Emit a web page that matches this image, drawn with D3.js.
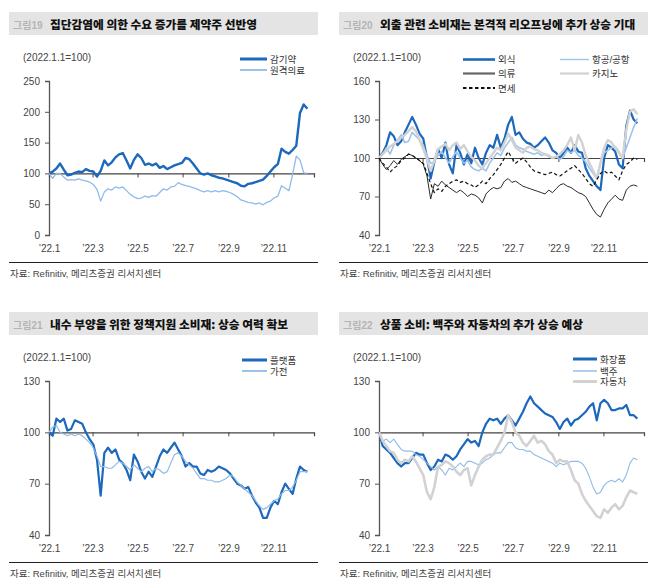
<!DOCTYPE html>
<html><head><meta charset="utf-8">
<script src="https://cdn.jsdelivr.net/npm/d3@7"></script>
<style>body{margin:0;background:#fff}svg{display:block}</style>
</head><body>
<svg id="c" width="660" height="588"></svg>
<script>
// ---------- data ----------
const startDate = "2022-01-01";
const stepDays = 5; // one observation every 5 days
const xTickMonths = ["2022-01-01","2022-03-01","2022-05-01","2022-07-01","2022-09-01","2022-11-01"];
const xTickLabels = ["\u201922.1","\u201922.3","\u201922.5","\u201922.7","\u201922.9","\u201922.11"];

// Fig 19
const coldMedicine = [100,103,108,116,106,97,98,101,103,102,107,104,103,95,104,121,113,118,126,131,133,121,108,122,131,125,114,116,113,116,109,112,107,110,113,115,117,125,123,116,108,100,98,100,97,95,93,92,90,88,86,84,80,79,83,84,86,88,90,96,103,110,115,140,135,132,138,145,198,212,205];
const telemedicine = [100,92,100,100,94,89,90,89,91,89,88,86,82,74,55,70,75,73,78,76,78,72,66,62,59,60,63,61,64,63,69,75,73,78,79,85,82,80,79,77,75,72,70,72,70,72,70,72,71,69,66,62,57,55,53,52,50,52,49,53,55,60,63,80,76,72,98,128,122,101,100];
const fig19Ticks = [0,50,100,150,200,250];

// Fig 20
const dining = [100,104,110,120,117,110,113,120,126,132,126,119,115,100,84,97,107,100,112,95,88,110,104,95,103,96,108,100,95,104,110,108,118,108,115,126,132,118,120,115,112,111,108,110,113,116,112,106,104,100,104,108,104,110,105,104,92,86,82,78,75,100,110,108,105,95,92,125,137,130,127];
const airline = [100,103,108,103,110,114,118,112,113,120,117,114,110,102,96,97,102,105,100,96,101,105,100,96,98,93,91,90,92,90,96,100,104,102,108,112,116,110,108,107,105,104,103,104,102,103,101,100,101,99,101,106,104,106,102,100,97,92,88,84,96,104,106,108,109,105,100,108,116,124,131];
const apparel = [100,95,91,94,98,95,99,101,103,102,100,98,95,86,68,80,78,82,79,77,75,73,75,73,70,72,71,69,65,72,75,77,76,77,82,84,81,82,80,78,77,76,75,74,73,72,75,73,76,79,80,78,77,75,73,72,70,65,60,56,54,60,65,68,71,68,67,75,78,79,78];
const casino = [100,103,106,109,111,113,116,118,121,124,121,114,107,99,90,98,107,109,111,106,110,112,107,110,105,101,98,94,92,96,100,104,108,106,112,119,114,108,106,104,108,109,107,106,104,103,102,100,101,103,106,110,116,106,118,112,102,96,90,84,96,108,114,112,108,104,100,122,136,138,134];
const dutyFree = [100,96,93,89,92,94,98,100,103,102,100,98,96,88,80,73,76,74,78,80,82,83,81,82,80,79,77,79,82,80,84,87,91,95,100,105,100,96,98,100,97,93,90,89,88,87,88,89,87,86,88,90,92,94,91,88,84,80,78,83,88,90,88,89,86,83,90,95,97,100,99];
const fig20Ticks = [40,70,100,130,160];

// Fig 21
const platform = [100,98,108,106,108,101,102,107,106,105,100,96,93,84,63,88,91,88,90,84,82,78,72,87,83,77,73,77,74,80,86,90,88,91,94,90,86,80,82,80,80,76,75,78,77,78,80,79,78,76,73,70,69,67,68,63,59,56,50,50,56,60,58,65,70,67,64,73,80,78,77];
const appliance = [100,103,104,100,99,98,99,98,99,98,96,94,91,86,80,80,79,79,81,83,82,80,78,81,79,77,79,80,77,79,78,76,77,82,87,88,86,83,81,79,76,73,73,72,72,71,71,72,73,75,74,71,69,67,65,63,60,57,55,56,58,60,61,64,66,66,68,72,77,77,77];
const fig21Ticks = [40,70,100,130];

// Fig 22
const cosmetics = [100,92,90,88,85,82,80,82,82,85,88,87,87,82,78,80,84,83,87,86,84,86,90,93,96,94,95,92,100,105,108,107,108,105,108,110,107,104,108,112,117,121,117,115,113,111,110,109,106,102,106,108,104,107,108,110,112,115,117,107,117,119,117,113,113,114,114,116,110,110,108];
const baijiu = [100,95,96,94,96,93,90,89,89,89,87,86,84,82,80,78,80,78,75,79,78,80,82,80,83,83,82,81,82,84,85,87,88,88,91,94,94,91,90,90,89,89,87,86,85,84,83,82,80,82,81,82,83,83,83,82,79,74,68,64,65,69,71,72,71,73,71,75,82,85,84];
const autos = [100,95,92,89,88,84,82,84,83,86,83,79,75,65,61,68,80,81,83,82,80,77,75,78,79,69,75,80,84,86,87,87,91,95,100,110,106,100,98,94,92,95,98,94,95,93,89,87,82,84,83,83,78,72,70,64,60,57,54,51,50,55,53,56,58,55,57,62,66,65,64];
const fig22Ticks = [40,70,100,130];

const sourceText = "자료: Refinitiv, 메리츠증권 리서치센터";
const baseLabel = "(2022.1.1=100)";

// ---------- drawing ----------
const svg = d3.select("#c");
const parse = d3.timeParse("%Y-%m-%d");
const t0 = parse(startDate);
const dateAt = i => d3.timeDay.offset(t0, i * stepDays);
const FONT = "'Liberation Sans','Noto Sans CJK KR',sans-serif";
const DARK = "#1c68bd", LIGHT = "#8fbbe8", GRAY = "#d2d2d2";

function panel(cfg) {
  const g = svg.append("g");
  const ox = cfg.ox, oy = cfg.oy;
  // title bar
  g.append("rect").attr("x", ox + 9).attr("y", oy + 12).attr("width", 309).attr("height", 23).attr("fill", "#e4e4e4");
  g.append("text").attr("x", ox + 13).attr("y", oy + 28.5).attr("font-family", FONT).attr("font-size", 10)
    .attr("font-weight", "bold").attr("fill", "#b4b4b4").text(cfg.num);
  g.append("text").attr("x", ox + 50).attr("y", oy + 28.5).attr("font-family", "'Noto Sans CJK KR',sans-serif")
    .attr("font-size", 11.7).attr("font-weight", 900).attr("fill", "#111").text(cfg.title);
  // base label
  g.append("text").attr("x", ox + 23).attr("y", oy + 60.5).attr("font-family", FONT).attr("font-size", 10)
    .attr("fill", "#444").text(baseLabel);

  const x = d3.scaleTime().domain([parse("2022-01-01"), parse("2022-12-26")]).range([ox + 49, ox + 314]);
  const y = d3.scaleLinear().domain(cfg.domain).range([oy + 235, oy + 81]);

  // y axis
  const ya = g.append("g").attr("transform", `translate(${ox + 49},0)`)
    .call(d3.axisLeft(y).tickValues(cfg.ticks).tickSize(4).tickPadding(5).tickFormat(d3.format("d")));
  ya.select(".domain").attr("stroke", "#555").attr("stroke-width", 1.3);
  ya.selectAll(".tick line").attr("stroke", "#555");
  ya.selectAll("text").attr("font-family", FONT).attr("font-size", 10).attr("fill", "#444");

  // x axis drawn at 100 with labels at the bottom
  const xa = g.append("g").attr("transform", `translate(0,${y(100)})`)
    .call(d3.axisBottom(x).tickValues(xTickMonths.map(parse)).tickSize(4).tickFormat(""));
  xa.select(".domain").attr("stroke", "#444").attr("stroke-width", 1.2);
  xa.selectAll(".tick line").attr("stroke", "#444");
  const xl = g.append("g").attr("transform", `translate(0,${oy + 235})`)
    .call(d3.axisBottom(x).tickValues(xTickMonths.map(parse)).tickSize(0).tickPadding(10)
      .tickFormat((d, i) => xTickLabels[i]));
  xl.select(".domain").remove();
  xl.selectAll("text").attr("font-family", FONT).attr("font-size", 10).attr("fill", "#444");

  // series
  const line = d3.line().x((d, i) => x(dateAt(i))).y(d => y(d)).curve(d3.curveLinear);
  const clip = "clip" + cfg.num;
  g.append("clipPath").attr("id", clip).append("rect").attr("x", ox + 49).attr("y", oy + 70)
    .attr("width", 270).attr("height", 170);
  const sg = g.append("g").attr("clip-path", `url(#${clip})`);
  cfg.series.forEach(s => {
    sg.append("path").datum(s.values).attr("d", line).attr("fill", "none")
      .attr("stroke", s.color).attr("stroke-width", s.w).attr("stroke-linejoin", "round")
      .attr("stroke-dasharray", s.dash || null);
  });

  // legend
  cfg.series.forEach(s => {
    const L = s.leg;
    g.append("line").attr("x1", ox + L[0]).attr("x2", ox + L[1]).attr("y1", oy + L[2]).attr("y2", oy + L[2])
      .attr("stroke", s.legColor || s.color).attr("stroke-width", s.lw || s.w).attr("stroke-dasharray", s.dash || null);
    g.append("text").attr("x", ox + L[1] + 3).attr("y", oy + L[2] + 3.5).attr("font-family", FONT)
      .attr("font-size", 9.5).attr("fill", "#333").text(s.name);
  });

  // source
  g.append("line").attr("x1", ox + 9).attr("x2", ox + 318).attr("y1", oy + 262.5).attr("y2", oy + 262.5)
    .attr("stroke", "#222").attr("stroke-width", 1);
  g.append("text").attr("x", ox + 10).attr("y", oy + 276.5).attr("font-family", FONT).attr("font-size", 9.5)
    .attr("fill", "#444").text(sourceText);
}

panel({ox: 0, oy: 0, num: "그림19", title: "집단감염에 의한 수요 증가를 제약주 선반영",
  domain: [0, 250], ticks: fig19Ticks,
  series: [
    {name: "감기약", values: coldMedicine, color: DARK, w: 2.4, lw: 3, leg: [240, 267, 59]},
    {name: "원격의료", values: telemedicine, color: LIGHT, w: 1.3, lw: 1.8, leg: [240, 267, 70]}
  ]});

panel({ox: 330, oy: 0, num: "그림20", title: "외출 관련 소비재는 본격적 리오프닝에 추가 상승 기대",
  domain: [40, 160], ticks: fig20Ticks,
  series: [
    {name: "외식", values: dining, color: DARK, w: 2.2, lw: 2.6, leg: [133, 165, 59.5]},
    {name: "항공/공항", values: airline, color: "#9dc4ec", w: 1.6, lw: 1.4, leg: [230, 259, 59.5]},
    {name: "의류", values: apparel, color: "#2a2a2a", w: 1, lw: 2.2, legColor: "#666", leg: [133, 165, 73.5]},
    {name: "카지노", values: casino, color: GRAY, w: 2.4, lw: 2.2, leg: [230, 259, 73.5]},
    {name: "면세", values: dutyFree, color: "#111", w: 1.2, lw: 1.8, dash: "3.5,2.5", leg: [133, 165, 88]}
  ]});

panel({ox: 0, oy: 300, num: "그림21", title: "내수 부양을 위한 정책지원 소비재: 상승 여력 확보",
  domain: [40, 130], ticks: fig21Ticks,
  series: [
    {name: "플랫폼", values: platform, color: DARK, w: 2.2, lw: 3, leg: [242, 267, 60]},
    {name: "가전", values: appliance, color: LIGHT, w: 1.2, lw: 1.8, leg: [242, 267, 71]}
  ]});

panel({ox: 330, oy: 300, num: "그림22", title: "상품 소비: 백주와 자동차의 추가 상승 예상",
  domain: [40, 130], ticks: fig22Ticks,
  series: [
    {name: "화장품", values: cosmetics, color: DARK, w: 2.2, lw: 3, leg: [243, 267, 59]},
    {name: "백주", values: baijiu, color: LIGHT, w: 1.1, lw: 1.4, leg: [243, 267, 71]},
    {name: "자동차", values: autos, color: GRAY, w: 2.6, lw: 3, leg: [243, 267, 81.5]}
  ]});
</script>
</body></html>
